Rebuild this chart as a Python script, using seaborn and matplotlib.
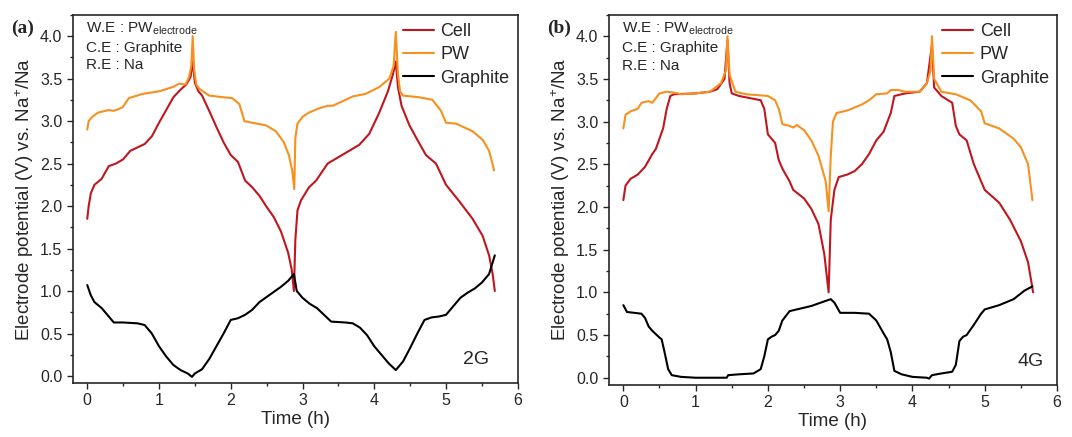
import seaborn as sns
import matplotlib.pyplot as plt
import matplotlib.ticker as mticker
import pandas as pd

# ---- panel (a): 2G ----
a_cell_t = [0, 0.02, 0.05, 0.1, 0.2, 0.3, 0.4, 0.5, 0.6, 0.7, 0.8, 0.9, 1.0, 1.1, 1.2, 1.3, 1.38, 1.44, 1.47, 1.5, 1.55, 1.6, 1.7, 1.8, 1.9, 2.0, 2.1, 2.2, 2.3, 2.4, 2.5, 2.6, 2.7, 2.8, 2.85, 2.88,
            2.9, 2.93, 2.98, 3.09, 3.19, 3.35, 3.51, 3.65, 3.79, 3.93, 4.07, 4.19, 4.26, 4.3, 4.33, 4.38, 4.49, 4.6, 4.72, 4.86, 5.0, 5.19, 5.37, 5.51, 5.6, 5.65, 5.68]
a_cell_v = [1.85, 2.0, 2.15, 2.25, 2.32, 2.47, 2.5, 2.55, 2.65, 2.69, 2.73, 2.82, 2.98, 3.13, 3.28, 3.37, 3.43, 3.52, 3.7, 3.45, 3.35, 3.3, 3.12, 2.93, 2.75, 2.6, 2.52, 2.3, 2.22, 2.12, 1.99, 1.87, 1.7, 1.45, 1.25, 1.0,
            1.6, 1.95, 2.07, 2.22, 2.3, 2.5, 2.58, 2.65, 2.72, 2.85, 3.1, 3.35, 3.55, 3.7, 3.4, 3.18, 2.95, 2.78, 2.6, 2.5, 2.25, 2.05, 1.85, 1.65, 1.42, 1.2, 1.0]

a_pw_t = [0, 0.02, 0.07, 0.15, 0.3, 0.37, 0.49, 0.58, 0.77, 1.0, 1.19, 1.28, 1.37, 1.42, 1.45, 1.47, 1.49, 1.52, 1.56, 1.7, 1.9, 2.02, 2.12, 2.19, 2.3, 2.49, 2.63, 2.74, 2.81, 2.86, 2.885,
          2.9, 2.93, 3.0, 3.09, 3.23, 3.35, 3.42, 3.6, 3.7, 3.88, 4.07, 4.21, 4.27, 4.3, 4.33, 4.36, 4.4, 4.63, 4.81, 4.93, 5.0, 5.14, 5.37, 5.51, 5.6, 5.67]
a_pw_v = [2.9, 3.0, 3.05, 3.1, 3.13, 3.12, 3.16, 3.27, 3.32, 3.35, 3.4, 3.44, 3.43, 3.52, 3.65, 4.0, 3.6, 3.43, 3.38, 3.3, 3.28, 3.27, 3.2, 3.0, 2.98, 2.95, 2.88, 2.75, 2.6, 2.4, 2.2,
          2.8, 2.97, 3.05, 3.1, 3.15, 3.18, 3.18, 3.25, 3.29, 3.32, 3.4, 3.5, 3.65, 4.05, 3.55, 3.35, 3.3, 3.28, 3.25, 3.12, 2.98, 2.97, 2.88, 2.78, 2.65, 2.42]

a_gr_t = [0, 0.05, 0.1, 0.2, 0.3, 0.37, 0.5, 0.7, 0.8, 0.9, 1.0, 1.1, 1.2, 1.3, 1.4, 1.46, 1.5, 1.6, 1.7, 1.8, 1.9, 2.0, 2.1, 2.2, 2.3, 2.4, 2.5, 2.6, 2.7, 2.8, 2.88,
          2.92, 3.0, 3.1, 3.2, 3.3, 3.4, 3.6, 3.7, 3.8, 3.9, 4.0, 4.1, 4.2, 4.3, 4.4, 4.5, 4.6, 4.7, 4.8, 4.9, 5.0, 5.1, 5.2, 5.3, 5.4, 5.5, 5.6, 5.68]
a_gr_v = [1.07, 0.95, 0.87, 0.8, 0.7, 0.63, 0.63, 0.62, 0.6, 0.5, 0.35, 0.23, 0.13, 0.07, 0.03, -0.01, 0.03, 0.08, 0.2, 0.35, 0.5, 0.66, 0.68, 0.72, 0.78, 0.87, 0.93, 0.99, 1.05, 1.12, 1.2,
          1.0, 0.92, 0.85, 0.8, 0.72, 0.64, 0.63, 0.62, 0.57, 0.48, 0.35, 0.25, 0.15, 0.07, 0.17, 0.33, 0.5, 0.66, 0.69, 0.7, 0.72, 0.82, 0.92, 0.98, 1.03, 1.1, 1.2, 1.42]

# ---- panel (b): 4G ----
b_cell_t = [0, 0.03, 0.1, 0.2, 0.3, 0.4, 0.45, 0.5, 0.55, 0.6, 0.65, 0.7, 1.0, 1.2, 1.3, 1.4, 1.44, 1.47, 1.5, 1.6, 1.9, 1.95, 2.0, 2.1, 2.15, 2.2, 2.3, 2.35, 2.5, 2.6, 2.7, 2.78, 2.84,
            2.87, 2.92, 2.98, 3.1, 3.2, 3.3, 3.4, 3.5, 3.6, 3.7, 3.75, 3.9, 4.1, 4.2, 4.27, 4.3, 4.4, 4.55, 4.6, 4.65, 4.75, 4.85, 4.95, 5.0, 5.2, 5.35, 5.5, 5.6, 5.67]
b_cell_v = [2.08, 2.25, 2.33, 2.38, 2.47, 2.62, 2.68, 2.8, 2.92, 3.15, 3.3, 3.32, 3.33, 3.35, 3.38, 3.5, 3.95, 3.45, 3.33, 3.3, 3.25, 3.15, 2.85, 2.75, 2.55, 2.45, 2.3, 2.2, 2.1, 1.98, 1.8, 1.45, 1.0,
            1.85, 2.2, 2.35, 2.38, 2.42, 2.5, 2.62, 2.78, 2.88, 3.1, 3.3, 3.33, 3.35, 3.45, 3.9, 3.4, 3.3, 3.22, 2.95, 2.85, 2.78, 2.5, 2.3, 2.2, 2.05, 1.85, 1.6, 1.35, 1.0]

b_pw_t = [0, 0.03, 0.1, 0.2, 0.25, 0.35, 0.4, 0.5, 0.6, 0.7, 0.8, 1.0, 1.2, 1.35, 1.42, 1.44, 1.47, 1.55, 1.7, 2.0, 2.1, 2.15, 2.2, 2.3, 2.35, 2.4, 2.5, 2.6, 2.7, 2.8, 2.84,
          2.87, 2.9, 2.95, 3.1, 3.3, 3.4, 3.5, 3.65, 3.7, 3.8, 3.9, 4.1, 4.2, 4.25, 4.27, 4.3, 4.4, 4.6, 4.8, 4.95, 5.0, 5.2, 5.4, 5.5, 5.6, 5.66]
b_pw_v = [2.92, 3.08, 3.12, 3.15, 3.22, 3.24, 3.22, 3.33, 3.35, 3.34, 3.32, 3.33, 3.35, 3.45, 3.6, 4.0, 3.55, 3.35, 3.32, 3.3, 3.25, 3.15, 2.97, 2.95, 2.93, 2.96, 2.9, 2.78, 2.6, 2.3, 1.95,
          2.6, 3.0, 3.1, 3.13, 3.2, 3.25, 3.32, 3.33, 3.37, 3.37, 3.35, 3.35, 3.45, 3.6, 4.0, 3.5, 3.35, 3.32, 3.25, 3.12, 2.98, 2.92, 2.8, 2.7, 2.5, 2.08]

b_gr_t = [0, 0.05, 0.25, 0.3, 0.35, 0.4, 0.5, 0.53, 0.57, 0.62, 0.67, 0.8, 1.0, 1.43, 1.45, 1.6, 1.8, 1.9, 1.95, 2.0, 2.05, 2.1, 2.15, 2.2, 2.3, 2.4, 2.6, 2.8, 2.87,
          2.92, 3.0, 3.2, 3.4, 3.5, 3.6, 3.65, 3.7, 3.75, 3.85, 4.0, 4.2, 4.23, 4.27, 4.4, 4.55, 4.6, 4.65, 4.7, 4.75, 4.85, 4.95, 5.0, 5.2, 5.4, 5.55, 5.66]
b_gr_v = [0.85, 0.77, 0.75, 0.7, 0.6, 0.55, 0.47, 0.45, 0.3, 0.1, 0.03, 0.01, 0.0, 0.0, 0.03, 0.04, 0.05, 0.1, 0.25, 0.45, 0.48, 0.5, 0.55, 0.67, 0.78, 0.8, 0.84, 0.9, 0.92,
          0.88, 0.76, 0.76, 0.75, 0.67, 0.52, 0.45, 0.3, 0.08, 0.04, 0.01, 0.0, -0.01, 0.03, 0.05, 0.07, 0.15, 0.43, 0.48, 0.5, 0.62, 0.75, 0.8, 0.85, 0.92, 1.02, 1.07]

series_names = ['Cell', 'PW', 'Graphite']
colors = {'Cell': '#c0161e', 'PW': '#f7901e', 'Graphite': '#000000'}

panels = [
    ('(a)', '2G', 0.935, [(a_cell_t, a_cell_v), (a_pw_t, a_pw_v), (a_gr_t, a_gr_v)]),
    ('(b)', '4G', 0.97, [(b_cell_t, b_cell_v), (b_pw_t, b_pw_v), (b_gr_t, b_gr_v)]),
]

sns.set_style('ticks')
plt.rcParams['font.family'] = ['Liberation Sans', 'DejaVu Sans']
plt.rcParams['mathtext.fontset'] = 'custom'
plt.rcParams['mathtext.rm'] = 'Liberation Sans'
plt.rcParams['mathtext.it'] = 'Liberation Sans:italic'

fig = plt.figure(figsize=(10.72, 4.37), dpi=100)
axes = [fig.add_axes([0.068, 0.124, 0.415, 0.842]),
        fig.add_axes([0.568, 0.12, 0.418, 0.846])]

for ax, (tag, label, lx, data) in zip(axes, panels):
    for name, (t, v) in zip(series_names, data):
        df = pd.DataFrame({'t': t, 'v': v})
        sns.lineplot(data=df, x='t', y='v', ax=ax, color=colors[name], label=name,
                     linewidth=1.5, sort=False, estimator=None)
    ax.set_xlim(-0.2, 6)
    ax.set_ylim(-0.08, 4.25)
    ax.xaxis.set_major_locator(mticker.MultipleLocator(1))
    ax.xaxis.set_minor_locator(mticker.MultipleLocator(0.5))
    ax.yaxis.set_major_locator(mticker.MultipleLocator(0.5))
    ax.yaxis.set_minor_locator(mticker.MultipleLocator(0.25))
    ax.yaxis.set_major_formatter(mticker.FormatStrFormatter('%.1f'))
    ax.tick_params(which='major', direction='out', length=4, width=1, labelsize=11.5)
    ax.tick_params(which='minor', direction='out', length=2.5, width=1)
    for s in ax.spines.values():
        s.set_linewidth(1.2)
    ax.set_xlabel('Time (h)', fontsize=13.5, labelpad=2)
    ax.set_ylabel('Electrode potential (V) vs. Na$^{+}$/Na', fontsize=13.5, labelpad=3)
    ax.legend(loc='upper right', frameon=False, fontsize=13, handlelength=1.75,
              borderaxespad=0.05, labelspacing=0.35, handletextpad=0.35)
    ax.text(0.03, 0.985, 'W.E : PW$_{\\mathrm{electrode}}$\nC.E : Graphite\nR.E : Na',
            transform=ax.transAxes, ha='left', va='top', fontsize=11, linespacing=1.35)
    ax.text(lx, 0.04, label, transform=ax.transAxes, ha='right', va='bottom', fontsize=14)
    pos = ax.get_position()
    fig.text(pos.x0 - 0.058, 0.925, tag, fontsize=14, fontweight='bold', family='Liberation Serif')

fig.savefig('out.png', dpi=100)
